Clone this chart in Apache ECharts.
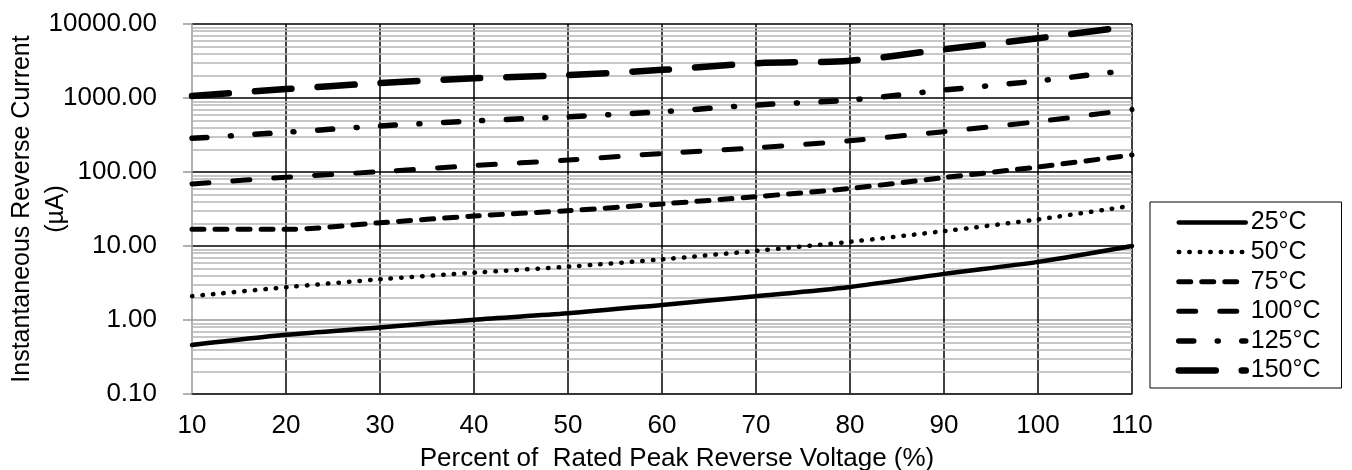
<!DOCTYPE html>
<html>
<head>
<meta charset="utf-8">
<script src="https://cdn.jsdelivr.net/npm/echarts@6/dist/echarts.min.js"></script>
<style>
  html, body { margin: 0; padding: 0; background: #fff; }
  #chart { width: 1352px; height: 470px; }
</style>
</head>
<body>
<div id="chart"></div>
<script>
// percent of rated peak reverse voltage
const voltagePct = [10, 20, 30, 40, 50, 60, 70, 80, 90, 100, 110];

// instantaneous reverse current (uA)
const current25 = [0.46, 0.63, 0.79, 1.01, 1.23, 1.6, 2.1, 2.8, 4.2, 6.1, 10];
const current50 = [2.1, 2.77, 3.55, 4.36, 5.25, 6.6, 8.6, 11.4, 15.9, 22.9, 35];
const current75 = [16.8, 16.8, 20.6, 25.4, 30, 37, 46.4, 60, 84, 117, 170];
const current100 = [69, 85, 101, 122, 145, 178, 212, 265, 351, 480, 700];
const current125 = [285, 344, 419, 490, 559, 653, 804, 940, 1280, 1700, 2400];
const current150 = [1064, 1320, 1590, 1846, 2040, 2400, 2950, 3190, 4550, 6410, 9400];

const seriesNames = ["25°C", "50°C", "75°C", "100°C", "125°C", "150°C"];
const decades = [0.1, 1, 10, 100, 1000];

const font = "'Liberation Sans', Arial, sans-serif";

const pairs = (vals) => voltagePct.map((x, i) => [x, vals[i]]);

// minor grid lines at 2..9 of each decade
const minorLines = [];
decades.forEach((d) => {
  for (let k = 2; k <= 9; k++) minorLines.push({ yAxis: +(d * k).toPrecision(3) });
});

const styles = [
  { width: 4.5, type: "solid" },
  { width: 4.5, type: [0.5, 10] },
  { width: 5, type: [12, 11] },
  { width: 5, type: [17, 24] },
  { width: 5.5, type: [15, 23.5, 1, 23.5] },
  { width: 6.5, type: [37, 26] },
];

const lineSeries = (i, data) => ({
  name: seriesNames[i],
  type: "line",
  data: pairs(data),
  symbol: "none",
  smooth: 0.3,
  z: 5,
  color: "#000",
  lineStyle: {
    color: "#000",
    width: styles[i].width,
    type: styles[i].type,
    cap: "round",
    join: "round",
  },
});

const chart = echarts.init(document.getElementById("chart"));

chart.setOption({
  animation: false,
  textStyle: { fontFamily: font, color: "#000" },
  grid: { left: 192, right: 220, top: 24, bottom: 76, outerBoundsMode: "none", containLabel: false },
  legend: {
    orient: "vertical",
    left: 1150,
    top: 202,
    data: seriesNames.map((name, i) => ({
      name,
      lineStyle: { width: styles[i].width, type: styles[i].type, cap: "round", color: "#000" },
    })),
    itemWidth: 67,
    itemHeight: 14,
    itemGap: 4.6,
    itemTextGap: 9.5,
    itemStyle: { opacity: 0 },
    padding: [8, 21, 5, 25.5],
    borderColor: "#000",
    borderWidth: 1,
    backgroundColor: "#fff",
    textStyle: { fontFamily: font, fontSize: 25, color: "#000", lineHeight: 25 },
  },
  xAxis: {
    type: "value",
    min: 10,
    max: 110,
    interval: 10,
    name: "Percent of  Rated Peak Reverse Voltage (%)",
    nameLocation: "middle",
    nameGap: 52,
    nameTextStyle: { fontFamily: font, fontSize: 26, color: "#000", padding: [0, 0, 0, 30] },
    axisLine: { lineStyle: { color: "#333", width: 1.5 } },
    axisTick: { show: false },
    axisLabel: { fontFamily: font, fontSize: 26, color: "#000", margin: 19 },
    splitLine: { show: true, showMinLine: false, lineStyle: { color: "#000", width: 1.5 } },
  },
  yAxis: {
    type: "log",
    logBase: 10,
    min: 0.1,
    max: 10000,
    name: "Instantaneous Reverse Current\n(µA)",
    nameLocation: "middle",
    nameGap: 119,
    nameMoveOverlap: false,
    nameTextStyle: { fontFamily: font, fontSize: 25, color: "#000", lineHeight: 34 },
    axisLine: { show: true, lineStyle: { color: "#999", width: 1.5 } },
    axisTick: { show: true, length: 9, lineStyle: { color: "#999", width: 1.5 } },
    axisLabel: {
      fontFamily: font,
      fontSize: 26,
      color: "#000",
      margin: 35,
      formatter: (v) => Number(v).toFixed(2),
    },
    splitLine: {
      show: true,
      lineStyle: { color: ["#000", "#999", "#000", "#000", "#000", "#000"], width: 1.5 },
    },
  },
  series: [
    {
      name: "minor",
      type: "line",
      data: [],
      silent: true,
      z: 1,
      markLine: {
        silent: true,
        symbol: "none",
        label: { show: false },
        lineStyle: { color: "#b4b4b4", width: 1.5, type: "solid" },
        emphasis: { disabled: true },
        data: minorLines,
      },
    },
    lineSeries(0, current25),
    lineSeries(1, current50),
    lineSeries(2, current75),
    lineSeries(3, current100),
    lineSeries(4, current125),
    lineSeries(5, current150),
  ],
});
</script>
</body>
</html>
